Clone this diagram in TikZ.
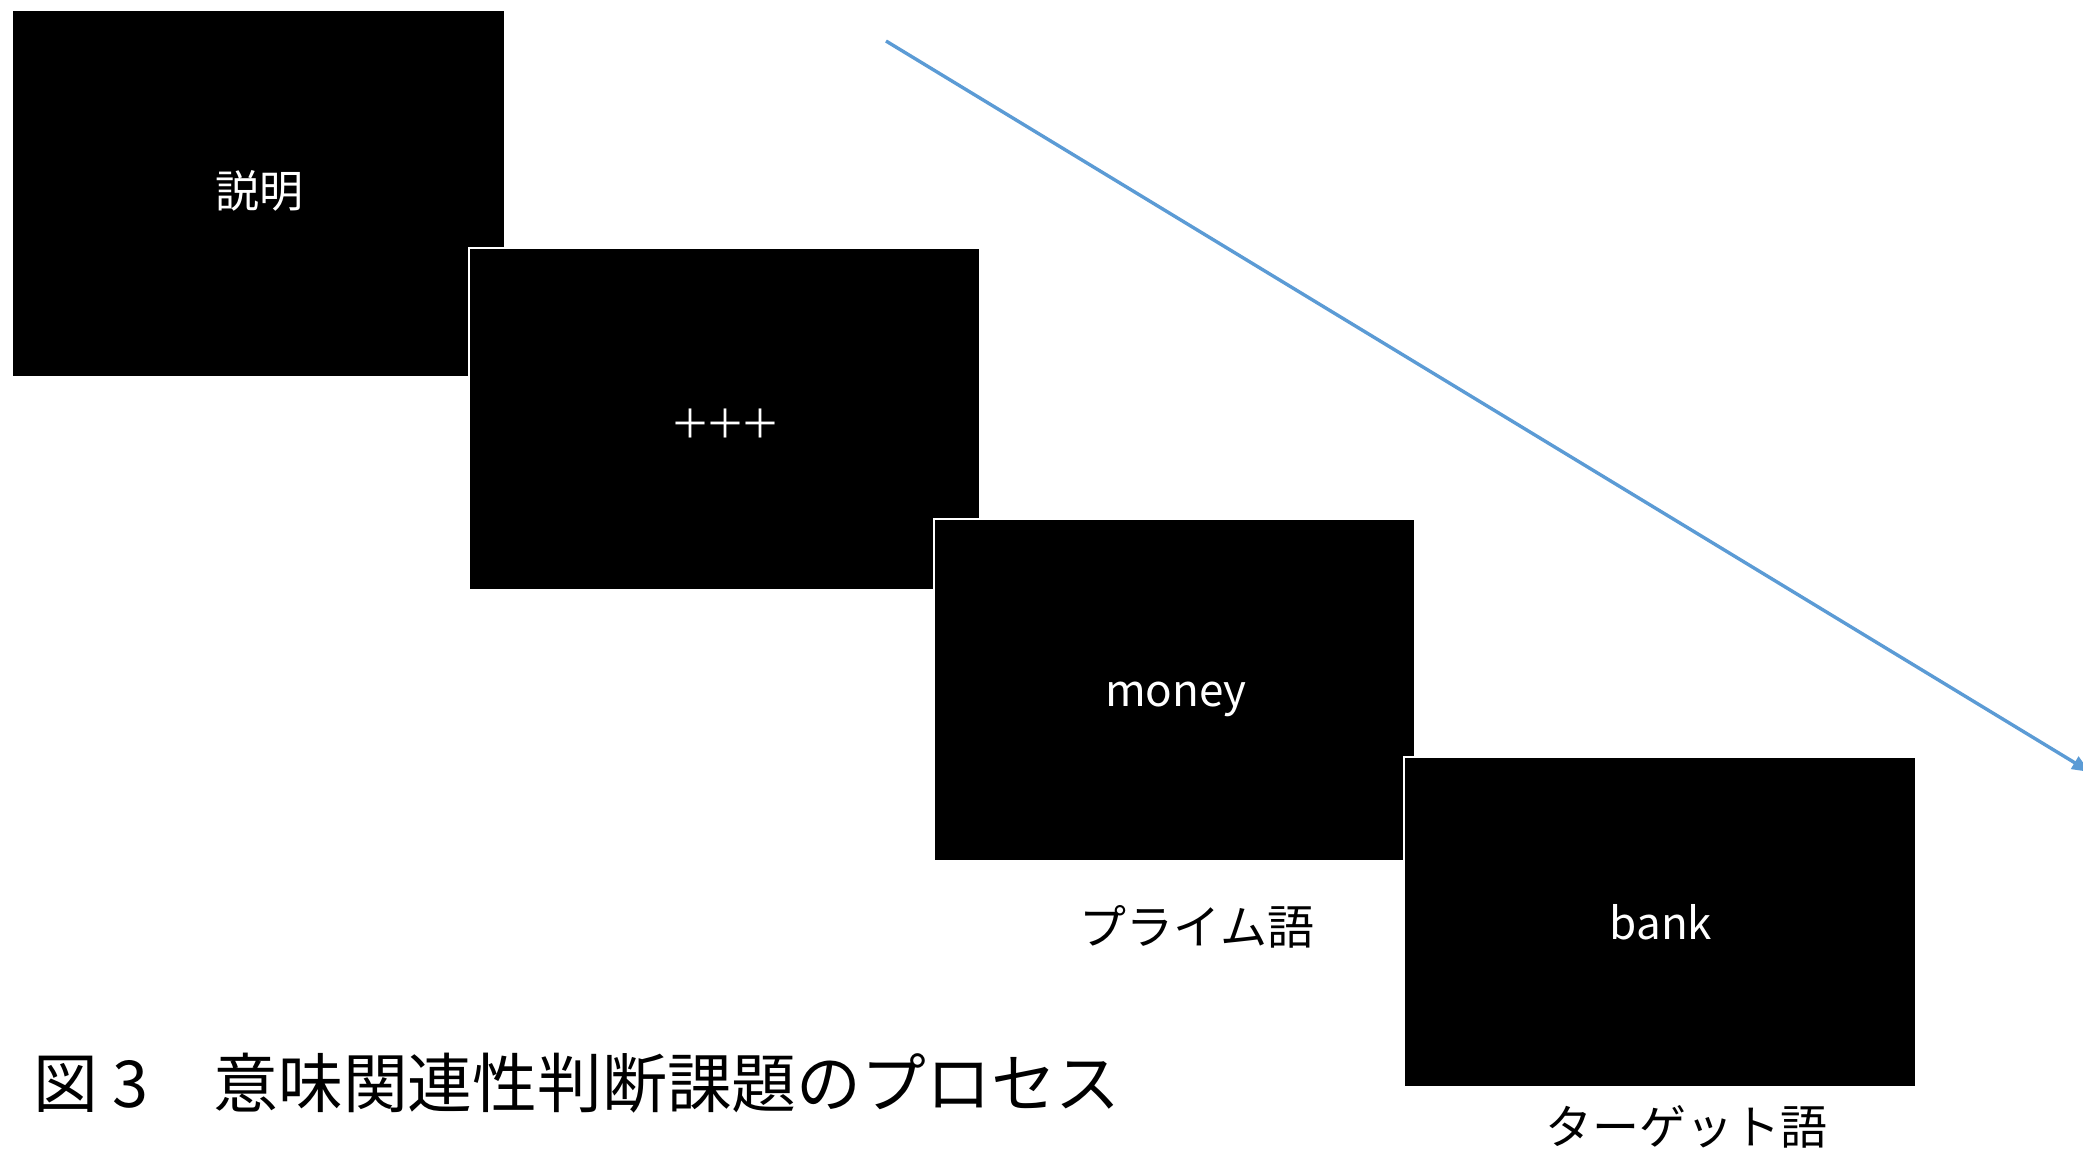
\documentclass[tikz,border=0pt]{standalone}
\usepackage{fontspec}
\setmainfont{Noto Sans CJK JP}
\usetikzlibrary{arrows.meta}
\tikzset{
  screen/.style={fill=black,draw=white,line width=0.9pt},
  scrtext/.style={text=white,font=\fontsize{22}{26}\selectfont,inner sep=0pt},
  label/.style={text=black,font=\fontsize{23.5}{28}\selectfont,inner sep=0pt},
  timeline/.style={draw={rgb,255:red,91;green,155;blue,213},line width=1.7pt,-{Triangle[length=9pt,width=7pt]}}
}
\begin{document}
\begin{tikzpicture}[x=0.5pt,y=-0.5pt]
\useasboundingbox[fill=white] (0,0) rectangle (2083,1152);
\draw[screen] (12,10) rectangle (505,377);
\node[scrtext] (s1) at (259,191) {説明};
\draw[screen] (469,248) rectangle (980,590);
\node[scrtext,font=\fontsize{20}{24}\selectfont] (s2) at (725,424) {＋\hspace{-2.5pt}＋\hspace{-2.5pt}＋};
\draw[screen] (934,519) rectangle (1415,861);
\node[scrtext] (s3) at (1176,699) {money};
\draw[screen] (1404,757) rectangle (1916,1087);
\node[scrtext] (s4) at (1661,922) {bank};
\node[label] (p) at (1197,927) {プライム語};
\node[label] (t) at (1686,1127) {ターゲット語};
\node[anchor=west,inner sep=0pt,font=\fontsize{32.4}{38}\selectfont] (cap) at (33,1083) {図 3　意味関連性判断課題のプロセス};
\coordinate (a0) at (886,41);
\coordinate (a1) at (2090,772);
\draw[timeline] (a0) -- (a1);
\end{tikzpicture}
\end{document}
